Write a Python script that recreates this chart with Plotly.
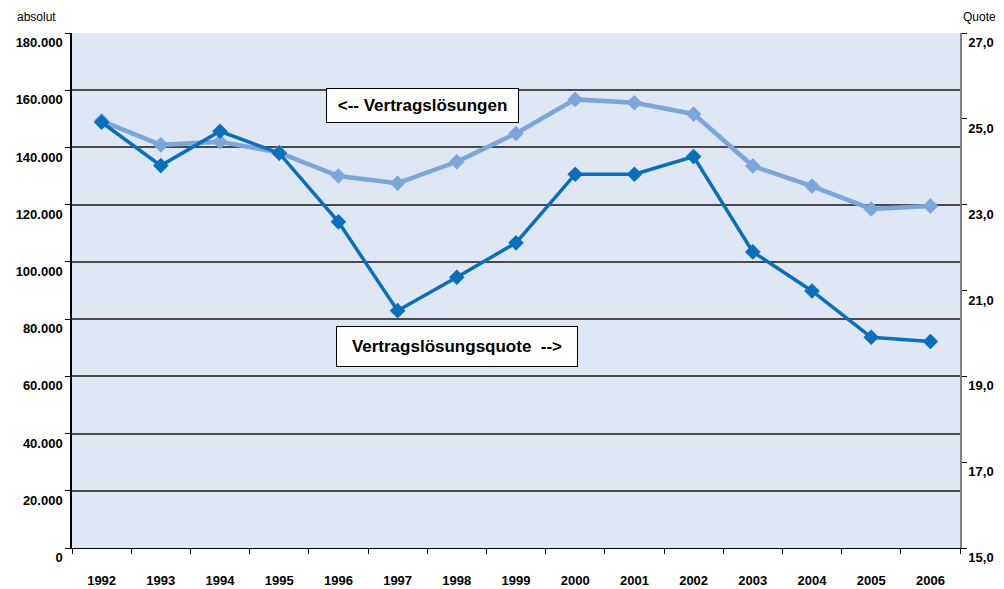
import plotly.graph_objects as go

years = [str(y) for y in range(1992, 2007)]
vertragsloesungen = [149300, 140900, 142000, 138200, 130000, 127500, 135000, 144900,
                     156800, 155600, 151700, 133500, 126500, 118500, 119500]
quote = [24.92, 23.91, 24.71, 24.20, 22.60, 20.53, 21.31, 22.11,
         23.71, 23.71, 24.12, 21.90, 20.99, 19.91, 19.81]

left_ticks = list(range(0, 180001, 20000))
right_ticks = [15, 17, 19, 21, 23, 25, 27]

LIGHT = "#7BA6DA"
DARK = "#0A6FBA"
FONT = "Liberation Sans, Arial, sans-serif"

fig = go.Figure()
fig.add_trace(go.Scatter(
    x=years, y=vertragsloesungen, mode="lines+markers", name="Vertragslösungen",
    line=dict(color=LIGHT, width=4.5),
    marker=dict(symbol="diamond", size=12, color=LIGHT),
    yaxis="y", cliponaxis=False,
))
fig.add_trace(go.Scatter(
    x=years, y=quote, mode="lines+markers", name="Vertragslösungsquote",
    line=dict(color=DARK, width=3.5),
    marker=dict(symbol="diamond", size=12, color=DARK),
    yaxis="y2", cliponaxis=False,
))

tickfont = dict(family=FONT, size=13, color="black", weight="bold")

fig.update_layout(
    width=1004, height=589,
    margin=dict(l=72, r=44, t=33, b=41),
    paper_bgcolor="white",
    plot_bgcolor="#DFE7F4",
    separators=",.",
    showlegend=False,
    font=dict(family=FONT),
    xaxis=dict(
        type="category", tickson="boundaries", ticks="outside", ticklen=5,
        tickcolor="black", showline=True, linecolor="black", linewidth=1,
        showgrid=False, tickfont=tickfont, ticklabelstandoff=20,
        range=[-0.5, 14.5], automargin=False,
    ),
    yaxis=dict(
        range=[0, 180000], tickvals=left_ticks, tickformat=",.0f",
        ticks="outside", ticklen=5, tickcolor="black",
        showline=True, linecolor="black", linewidth=1.5,
        showgrid=True, gridcolor="#4A4A4A", gridwidth=1.5,
        zeroline=False, tickfont=tickfont, automargin=False,
        ticklabelposition="outside bottom", ticklabelstandoff=5,
    ),
    yaxis2=dict(
        range=[15, 27], tickvals=right_ticks, tickformat=".1f",
        overlaying="y", side="right",
        ticks="outside", ticklen=5, tickcolor="black",
        showline=True, linecolor="#808080", linewidth=1.5,
        showgrid=False, zeroline=False, tickfont=tickfont, automargin=False,
        ticklabelposition="outside bottom", ticklabelstandoff=4,
    ),
    annotations=[
        dict(text="absolut", xref="paper", yref="paper", x=-0.0405, y=1.0,
             xanchor="center", yanchor="bottom", yshift=7, showarrow=False,
             font=dict(family=FONT, size=12, color="black")),
        dict(text="Quote", xref="paper", yref="paper", x=1.0, y=1.0,
             xanchor="left", yanchor="bottom", yshift=7, xshift=1, showarrow=False,
             font=dict(family=FONT, size=12, color="black")),
        dict(text="<-- Vertragslösungen", xref="paper", yref="paper",
             x=0.395, y=0.860, xanchor="center", yanchor="middle", showarrow=False,
             width=187, height=29, align="center",
             bgcolor="white", bordercolor="black", borderwidth=1, borderpad=2,
             font=dict(family=FONT, size=17, color="black", weight="bold")),
        dict(text="Vertragslösungsquote  -->", xref="paper", yref="paper",
             x=0.4333, y=0.391, xanchor="center", yanchor="middle", showarrow=False,
             width=236, height=35, align="center",
             bgcolor="white", bordercolor="black", borderwidth=1, borderpad=2,
             font=dict(family=FONT, size=17, color="black", weight="bold")),
    ],
)

fig.write_html("out.html", config={"displayModeBar": False},
               post_script="document.body.style.margin='0';document.body.style.padding='0';")
